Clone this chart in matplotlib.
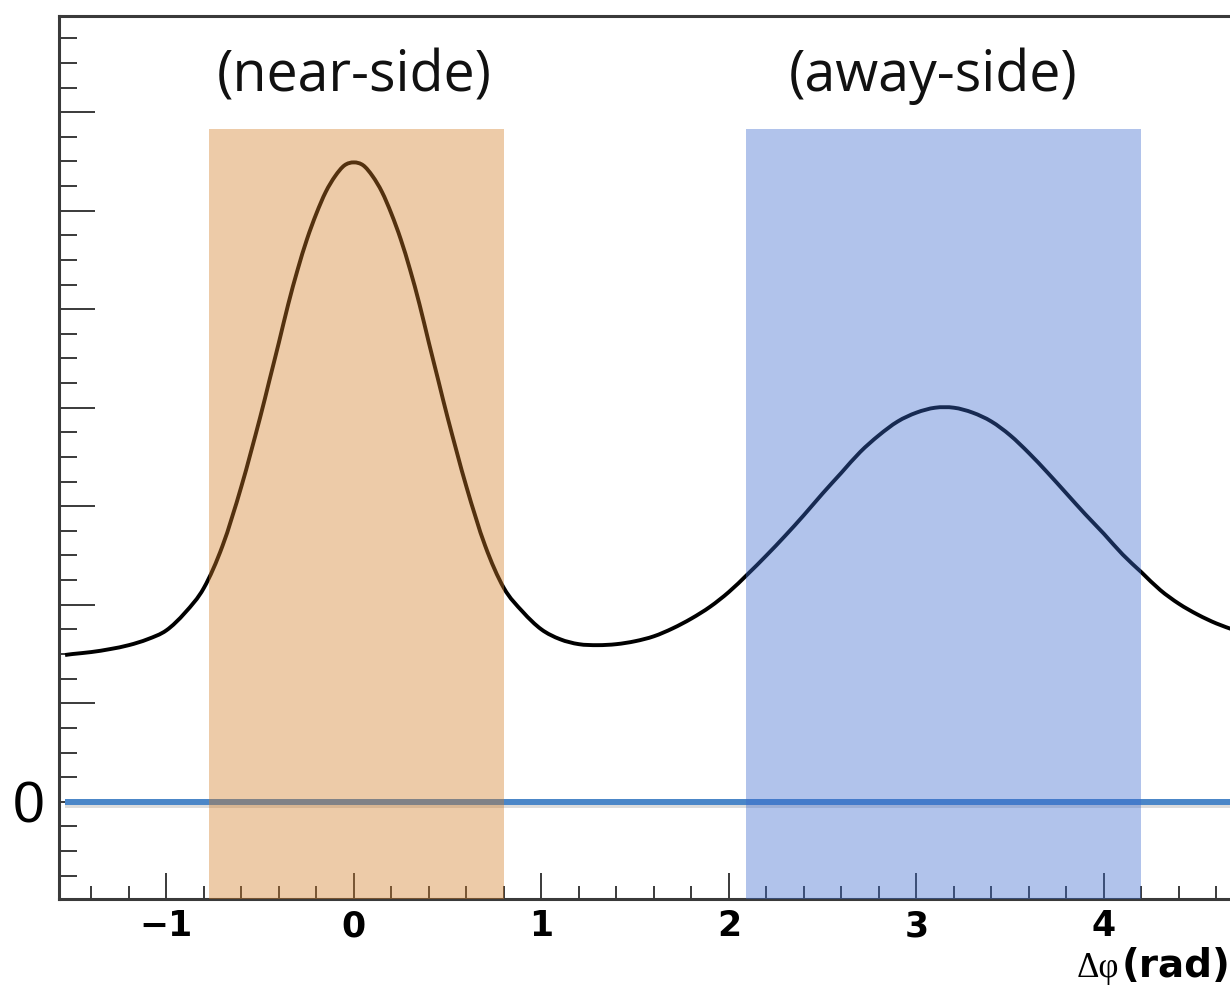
import matplotlib
matplotlib.use("Agg")
import matplotlib.pyplot as plt
import matplotlib.patheffects as pe
from matplotlib.path import Path
from matplotlib.patches import PathPatch
from matplotlib.ticker import MultipleLocator, FixedLocator, FixedFormatter
import numpy as np

# Correlation function vs. azimuthal difference (arbitrary units)
dphi = [-1.54, -1.5, -1.4, -1.3, -1.2, -1.1, -1.0, -0.9, -0.8, -0.7, -0.6,
        -0.5, -0.45, -0.4, -0.35, -0.3, -0.25, -0.2, -0.15, -0.1, -0.05, 0.0,
        0.05, 0.1, 0.15, 0.2, 0.25, 0.3, 0.35, 0.4, 0.45, 0.5, 0.6, 0.7, 0.8,
        0.9, 1.0, 1.1, 1.2, 1.3, 1.4, 1.5, 1.6, 1.7, 1.8, 1.9, 2.0, 2.1, 2.2,
        2.3, 2.4, 2.5, 2.6, 2.7, 2.8, 2.9, 3.0, 3.1, 3.2, 3.3, 3.4, 3.5, 3.6,
        3.7, 3.8, 3.9, 4.0, 4.1, 4.2, 4.3, 4.4, 4.5, 4.6, 4.7]
corr = [1.49, 1.50, 1.52, 1.55, 1.59, 1.65, 1.74, 1.92, 2.17, 2.60, 3.20,
        3.90, 4.28, 4.66, 5.05, 5.40, 5.71, 5.97, 6.19, 6.35, 6.46, 6.49,
        6.46, 6.35, 6.19, 5.97, 5.71, 5.40, 5.05, 4.66, 4.28, 3.90, 3.20, 2.60, 2.17,
        1.93, 1.75, 1.65, 1.60, 1.59, 1.60, 1.63, 1.68, 1.76, 1.86, 1.98, 2.13, 2.31, 2.50,
        2.70, 2.91, 3.13, 3.34, 3.55, 3.72, 3.86, 3.95, 4.00, 4.00, 3.95, 3.86, 3.72, 3.54,
        3.34, 3.13, 2.92, 2.72, 2.51, 2.33, 2.15, 2.01, 1.90, 1.81, 1.74]

# Integration windows
near_range = [-0.77, 0.80]
away_range = [2.09, 4.20]
window_top = 6.83
region_labels = ["(near-side)", "(away-side)"]
region_label_x = [0.0, 3.09]

xtick_vals = [-1, 0, 1, 2, 3, 4]
ytick_vals = [-1, 0, 1, 2, 3, 4, 5, 6, 7, 8]
ytick_labels = ["", "0", "", "", "", "", "", "", "", ""]


def smooth_path(xs, ys):
    """Catmull-Rom curve through the points, as cubic Bezier segments."""
    pts = np.column_stack([xs, ys]).astype(float)
    n = len(pts)
    verts = [pts[0]]
    codes = [Path.MOVETO]
    for i in range(n - 1):
        p0 = pts[i - 1] if i > 0 else pts[i]
        p1 = pts[i]
        p2 = pts[i + 1]
        p3 = pts[i + 2] if i + 2 < n else pts[i + 1]
        h = p2[0] - p1[0]
        # tangents scaled to the local spacing
        t1 = (p2 - p0) / (p2[0] - p0[0]) * h if p2[0] != p0[0] else p2 - p1
        t2 = (p3 - p1) / (p3[0] - p1[0]) * h if p3[0] != p1[0] else p2 - p1
        verts += [p1 + t1 / 3, p2 - t2 / 3, p2]
        codes += [Path.CURVE4] * 3
    return Path(verts, codes)


fig = plt.figure(figsize=(12.3, 9.91), dpi=100)
ax = fig.add_axes([0.04821, 0.0925, 0.95789, 0.89175])

ax.set_xlim(-np.pi / 2, 3 * np.pi / 2)
ax.set_ylim(-0.99, 7.98)

frame_col = "#3a3a3a"
for side in ["left", "bottom", "top", "right"]:
    ax.spines[side].set_linewidth(2.2)
    ax.spines[side].set_color(frame_col)

# zero line with soft shadow
ax.plot([-1.54, 4.8], [0, 0], color="#4a86c8", lw=4.3, solid_capstyle="butt",
        zorder=2, clip_on=False,
        path_effects=[pe.SimpleLineShadow(offset=(0, -2.5), shadow_color="#777777",
                                          alpha=0.25), pe.Normal()])

# correlation curve
ax.add_patch(PathPatch(smooth_path(dphi, corr), facecolor="none",
                       edgecolor="black", lw=2.8, zorder=2.2))

# shaded windows over everything
ax.axvspan(near_range[0], near_range[1], ymin=0, ymax=(window_top + 0.99) / 8.97,
           facecolor="#d27d26", alpha=0.4, lw=0, zorder=3)
ax.axvspan(away_range[0], away_range[1], ymin=0, ymax=(window_top + 0.99) / 8.97,
           facecolor="#3c6bcf", alpha=0.4, lw=0, zorder=3)

for lab, xp in zip(region_labels, region_label_x):
    ax.text(xp, 7.21, lab, ha="center", va="baseline", fontsize=40,
            family="Open Sans", color="#111111")

# ticks
ax.xaxis.set_major_locator(FixedLocator(xtick_vals))
ax.xaxis.set_minor_locator(MultipleLocator(0.2))
ax.yaxis.set_major_locator(FixedLocator(ytick_vals))
ax.yaxis.set_major_formatter(FixedFormatter(ytick_labels))
ax.yaxis.set_minor_locator(MultipleLocator(0.25))

ax.tick_params(axis="x", which="major", direction="in", length=18.5, width=1.4,
               color=frame_col, pad=7, labelsize=25, top=False)
ax.tick_params(axis="x", which="minor", direction="in", length=9.5, width=1.4,
               color=frame_col, top=False)
ax.tick_params(axis="y", which="major", direction="in", length=26, width=1.4,
               color=frame_col, pad=11, labelsize=41, right=False)
ax.tick_params(axis="y", which="minor", direction="in", length=13, width=1.4,
               color=frame_col, right=False)
for t in ax.get_xticklabels():
    t.set_fontweight("bold")
    t.set_family("DejaVu Sans")
for t in ax.get_yticklabels():
    t.set_family("Liberation Sans")

# axis title at the right end
fig.text(1119 / 1230, 1 - 977 / 991, "\u0394\u03c6", ha="right", va="baseline",
         fontsize=25, family="Liberation Serif")
fig.text(1122 / 1230, 1 - 977 / 991, "(rad)", ha="left", va="baseline",
         fontsize=28, family="DejaVu Sans", fontweight="bold")

fig.savefig("out.png", dpi=100)
